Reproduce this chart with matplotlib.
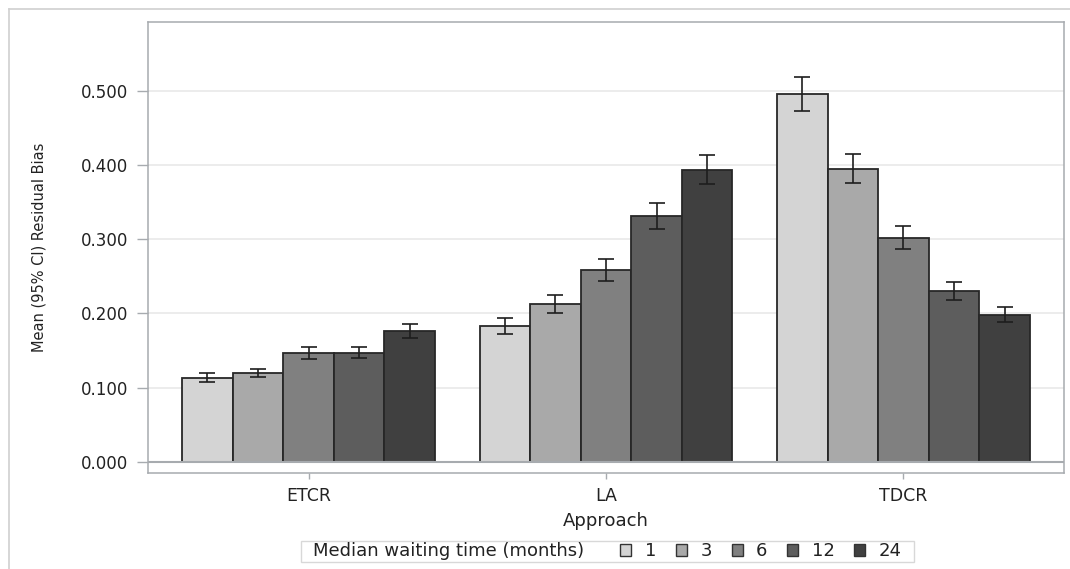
import matplotlib
matplotlib.use("Agg")
import matplotlib.pyplot as plt
import numpy as np
from matplotlib.patches import Patch
from matplotlib.lines import Line2D
from matplotlib.offsetbox import HPacker, DrawingArea
from matplotlib.ticker import FormatStrFormatter

# Approaches on the x axis
approaches = ["ETCR", "LA", "TDCR"]

# Median waiting time groups (months)
waiting_times = ["1", "3", "6", "12", "24"]

# Mean residual bias per waiting time, one value per approach (ETCR, LA, TDCR)
mean_1 = [0.113, 0.183, 0.495]
mean_3 = [0.120, 0.213, 0.395]
mean_6 = [0.147, 0.258, 0.301]
mean_12 = [0.147, 0.331, 0.230]
mean_24 = [0.176, 0.393, 0.198]

# Lower 95% confidence limits
lower_1 = [0.107, 0.172, 0.472]
lower_3 = [0.114, 0.201, 0.376]
lower_6 = [0.139, 0.243, 0.286]
lower_12 = [0.140, 0.314, 0.218]
lower_24 = [0.167, 0.374, 0.188]

# Upper 95% confidence limits
upper_1 = [0.120, 0.193, 0.518]
upper_3 = [0.125, 0.225, 0.415]
upper_6 = [0.154, 0.273, 0.317]
upper_12 = [0.155, 0.349, 0.242]
upper_24 = [0.186, 0.413, 0.208]

y_ticks = [0.0, 0.1, 0.2, 0.3, 0.4, 0.5]

means = [mean_1, mean_3, mean_6, mean_12, mean_24]
lowers = [lower_1, lower_3, lower_6, lower_12, lower_24]
uppers = [upper_1, upper_3, upper_6, upper_12, upper_24]

fill_colors = ["#d4d4d4", "#a9a9a9", "#808080", "#5d5d5d", "#404040"]
edge_color = "#272727"
frame_color = "#a7abaf"
text_color = "#222222"

plt.rcParams["font.family"] = ["DejaVu Sans"]

fig = plt.figure(figsize=(10.70, 5.69), dpi=100)
ax = fig.add_axes([148 / 1070, 1 - 472.7 / 569, (1064 - 148) / 1070, (472.7 - 22) / 569])

x = np.arange(len(approaches))
bar_w = 0.17

for i, (m, lo, hi) in enumerate(zip(means, lowers, uppers)):
    pos = x + (i - 2) * bar_w
    m = np.asarray(m)
    err = np.vstack([m - np.asarray(lo), np.asarray(hi) - m])
    ax.bar(pos, m, width=bar_w, color=fill_colors[i], edgecolor=edge_color,
           linewidth=1.3, zorder=2, label=waiting_times[i])
    ax.errorbar(pos, m, yerr=err, fmt="none", ecolor="#1e1e1e",
                elinewidth=1.2, capsize=6.1, capthick=1.2, zorder=3)

ax.axhline(0, color=frame_color, lw=1.5, zorder=2.5)

ax.set_xlim(-0.54, 2.54)
ax.set_ylim(-0.01482, 0.5926)
ax.set_xticks(x)
ax.set_xticklabels(approaches)
ax.set_yticks(y_ticks)
ax.yaxis.set_major_formatter(FormatStrFormatter("%.3f"))

ax.set_axisbelow(True)
ax.yaxis.grid(True, color="#ebebeb", lw=1.3)
ax.xaxis.grid(False)

for sp in ax.spines.values():
    sp.set_color(frame_color)
    sp.set_linewidth(1.1)

ax.tick_params(axis="y", length=8, width=1, color=frame_color, pad=6,
               labelsize=12, labelcolor=text_color)
ax.tick_params(axis="x", length=4.5, width=1, color=frame_color, pad=6,
               labelsize=12.5, labelcolor=text_color)

ax.set_xlabel("Approach", fontsize=13, color=text_color)
ax.xaxis.set_label_coords(0.5, -0.0872)
ax.set_ylabel("Mean (95% CI) Residual Bias", fontsize=10.5, color=text_color)
ax.yaxis.label.set_va("center")
ax.yaxis.label.set_ha("center")
ax.yaxis.set_label_coords((39 - 148) / 916, 0.5)

# Legend with its title placed inline, left of the swatches
handles = [Patch(facecolor=c, edgecolor="#333333", linewidth=1.0) for c in fill_colors]
leg_fs = 13
leg = fig.legend(handles, waiting_times, loc="center",
                 bbox_to_anchor=(607.5 / 1070, 1 - 551.5 / 569),
                 ncol=5, fontsize=leg_fs, frameon=True, fancybox=False,
                 title="Median waiting time (months)", title_fontsize=leg_fs,
                 handlelength=0.6, handleheight=0.6, handletextpad=0.75,
                 columnspacing=1.1, borderpad=0.1, borderaxespad=0)
leg.get_frame().set_edgecolor("#cfcfcf")
leg.get_frame().set_linewidth(1.0)
for t in leg.get_texts():
    t.set_color(text_color)
leg.get_title().set_color(text_color)

row = HPacker(pad=0, sep=26, align="center",
              children=[leg._legend_title_box, leg._legend_handle_box])
inline_box = HPacker(pad=1, sep=0, align="center",
                     children=[DrawingArea(8, 1), row, DrawingArea(8, 1)])
inline_box.set_figure(fig)
inline_box.set_offset(leg._findoffset)
leg._legend_box = inline_box

# Outer border lines
fig.add_artist(Line2D([9 / 1070, 9 / 1070], [0, 1 - 9 / 569],
                      transform=fig.transFigure, color="#d0d0d0", lw=1.2))
fig.add_artist(Line2D([9 / 1070, 1], [1 - 9 / 569, 1 - 9 / 569],
                      transform=fig.transFigure, color="#d0d0d0", lw=1.2))

fig.savefig("out.png", dpi=100)
